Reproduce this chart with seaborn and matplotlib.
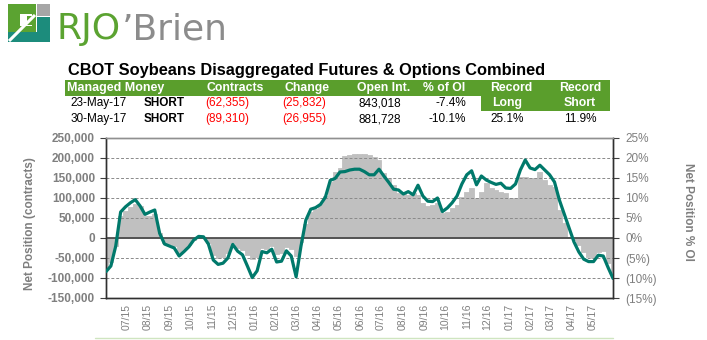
import numpy as np
import pandas as pd
import matplotlib
matplotlib.use("Agg")
import matplotlib.pyplot as plt
import matplotlib.dates as mdates
from matplotlib.patches import Rectangle, Polygon
from matplotlib.ticker import FuncFormatter, FixedLocator
import seaborn as sns

# ---------------- data ----------------
report_start = "2015-06-02"
n_reports = 105

net_contracts = [
    -72000, -60000, -20000, 55000, 68000, 78000, 85000, 80000, 55000, 55000,
    60000, 12000, -12000, -16000, -20000, -35000, -27000, -18000, -4000, 3000,
    2000, -12000, -42000, -50000, -48000, -38000, -12000, -25000, -30000, -42000,
    -52000, -48000, -24000, -27000, -20000, -40000, -38000, -22000, -28000, -45000,
    -10000, 35000, 65000, 72000, 85000, 105000, 140000, 165000, 175000, 205000,
    207000, 211000, 211000, 211000, 207000, 203000, 195000, 162000, 149000, 132000,
    112000, 116000, 107000, 112000, 107000, 87000, 80000, 82000, 88000, 62000,
    66000, 74000, 82000, 103000, 116000, 124000, 99000, 116000, 137000, 124000,
    120000, 116000, 113000, 99000, 99000, 153000, 153000, 149000, 149000, 166000,
    145000, 132000, 128000, 70000, 37000, 3000, -5000, -17000, -34000, -47000,
    -51000, -34000, -32000, -62355, -89310,
]

net_pct_oi = [
    -8.4, -7.0, -2.0, 6.5, 7.8, 8.8, 9.6, 8.0, 5.9, 6.5,
    7.0, 1.2, -1.5, -2.0, -2.5, -4.5, -3.4, -2.2, -0.5, 0.4,
    0.3, -1.5, -5.5, -6.6, -6.3, -5.0, -1.6, -3.3, -4.2, -7.0,
    -9.9, -8.2, -3.4, -3.7, -2.8, -6.0, -5.8, -3.2, -4.5, -9.7,
    -2.0, 4.5, 7.2, 7.6, 8.4, 10.2, 14.4, 14.9, 16.5, 16.6,
    17.0, 17.2, 17.2, 16.6, 15.8, 15.8, 17.2, 15.5, 13.9, 12.2,
    12.0, 11.0, 11.6, 10.8, 13.2, 10.5, 9.2, 9.1, 10.0, 6.6,
    7.5, 8.8, 10.5, 13.5, 15.8, 16.8, 13.3, 15.5, 14.5, 13.9,
    13.4, 13.7, 12.5, 12.4, 13.5, 17.0, 19.5, 17.5, 17.1, 18.2,
    17.0, 15.8, 14.0, 9.5, 6.0, 2.5, -1.0, -3.5, -5.3, -5.9,
    -5.9, -4.3, -4.5, -7.4, -10.1,
]

title_text = "CBOT Soybeans Disaggregated Futures & Options Combined"
header_labels = ["Managed Money", "Contracts", "Change", "Open Int.", "% of OI", "Record", "Record"]
record_sub = ["Long", "Short"]
row_dates = ["23-May-17", "30-May-17"]
row_side = ["SHORT", "SHORT"]
row_contracts = ["(62,355)", "(89,310)"]
row_change = ["(25,832)", "(26,955)"]
row_oi = ["843,018", "881,728"]
row_pct = ["-7.4%", "-10.1%"]
record_vals = ["25.1%", "11.9%"]

left_ticks = [-150000, -100000, -50000, 0, 50000, 100000, 150000, 200000, 250000]
right_ticks = [-15, -10, -5, 0, 5, 10, 15, 20, 25]
left_label = "Net Position (contracts)"
right_label = "Net Position % OI"

# ---------------- style ----------------
sns.set_style("white")
plt.rcParams["font.family"] = ["Liberation Sans", "DejaVu Sans"]

GREEN = "#5A9E2C"
TEAL = "#00796B"
GRAYTXT = "#7F7F7F"
BARGRAY = "#C0C0C0"

W, H = 707, 340
fig = plt.figure(figsize=(W / 100, H / 100), dpi=100)
fig.patch.set_facecolor("white")

dates = pd.date_range(report_start, periods=n_reports, freq="7D")
df = pd.DataFrame({"date": dates, "contracts": net_contracts, "pct": net_pct_oi})

# ---------------- chart ----------------
L, R, T, B = 106, 613, 138, 298
ax = fig.add_axes([L / W, 1 - B / H, (R - L) / W, (B - T) / H])
ax.bar(df["date"], df["contracts"], width=7.0, color=BARGRAY,
       edgecolor=BARGRAY, linewidth=0.6, zorder=1)
ax.set_ylim(-150000, 250000)
ax.yaxis.set_major_locator(FixedLocator(left_ticks))
ax.yaxis.set_major_formatter(FuncFormatter(lambda v, p: f"{v:,.0f}"))
for v in left_ticks:
    if v in (-150000, 250000):
        continue
    if v == 0:
        ax.axhline(0, color="#404040", lw=1.2, zorder=3)
    else:
        ax.axhline(v, color="#8A8A8A", lw=0.7, ls=(0, (3, 2)), zorder=2)

ax2 = ax.twinx()
sns.lineplot(data=df, x="date", y="pct", ax=ax2, color=TEAL, linewidth=2.3, zorder=5)
ax2.set_ylim(-15, 25)
ax2.yaxis.set_major_locator(FixedLocator(right_ticks))
ax2.yaxis.set_major_formatter(
    FuncFormatter(lambda v, p: f"{v:.0f}%" if v >= 0 else f"({-v:.0f}%)"))
ax2.set_xlabel("")
ax2.set_ylabel("")
ax.set_xlabel("")

ax.set_xlim(dates[0], dates[-1])
ax.xaxis.set_major_locator(mdates.MonthLocator(bymonthday=1))
ax.xaxis.set_major_formatter(mdates.DateFormatter("%m/%y"))
for lab in ax.get_xticklabels():
    lab.set_rotation(90)
ax.tick_params(axis="x", length=0, pad=4, labelsize=7.5, labelcolor=GRAYTXT)
ax.tick_params(axis="y", direction="out", length=4, width=0.8, color="#404040",
               pad=4, labelsize=8.5, labelcolor=GRAYTXT, left=True)
for lab in ax.get_yticklabels():
    lab.set_fontweight("bold")
ax2.tick_params(axis="y", direction="out", length=4, width=0.8, color="#404040",
                pad=5, labelsize=8.5, labelcolor=GRAYTXT, right=True)

for a in (ax, ax2):
    for s in a.spines.values():
        s.set_color("#303030")
        s.set_linewidth(1.0)
    a.spines["top"].set_color("#909090")

fig.text(30 / W, 1 - 224 / H, left_label, rotation=90, ha="center", va="center",
         fontsize=8.5, fontweight="bold", color=GRAYTXT)
fig.text(688 / W, 1 - 212 / H, right_label, rotation=270, ha="center", va="center",
         fontsize=8.5, fontweight="bold", color=GRAYTXT)

# ---------------- header / table overlay (pixel coords) ----------------
ov = fig.add_axes([0, 0, 1, 1])
ov.set_xlim(0, W)
ov.set_ylim(H, 0)
ov.axis("off")
ov.patch.set_alpha(0)

# logo
ov.add_patch(Rectangle((8, 4), 28, 28, color="#5BA331", lw=0))
ov.add_patch(Rectangle((20, 14), 12, 12, color="white", lw=0))
ov.add_patch(Rectangle((27, 16), 5, 9, color="#5BA331", lw=0))
ov.add_patch(Rectangle((37, 4), 13, 12, color="#A6A6A6", lw=0))
ov.add_patch(Polygon([(8, 42), (50, 42), (50, 17), (37, 17), (37, 32), (8, 32)],
                     closed=True, color="#1C8C7C", lw=0))
ov.plot([9, 35], [41, 15], color="white", lw=2.2, solid_capstyle="butt")
ov.text(57, 39, "RJO", fontsize=26, color="#5BA331", family="DejaVu Sans",
        ha="left", va="baseline")
ov.text(122, 39, "\u2019Brien", fontsize=26, color="#8C8C8C", family="DejaVu Sans",
        ha="left", va="baseline")

# title
ov.text(68, 70, title_text, fontsize=11.8, fontweight="bold", color="black",
        ha="left", va="center")

# green header bar and record block
ov.add_patch(Rectangle((65, 80), 545, 16, color=GREEN, lw=0))
ov.add_patch(Rectangle((481, 80), 129, 31, color=GREEN, lw=0))

hx = [67, 235, 307, 384, 444, 511, 580]
hy = 88
for i, (x, t) in enumerate(zip(hx, header_labels)):
    ov.text(x, hy, t, fontsize=9 if i == 0 else 8.8, fontweight="bold", color="white",
            ha="left" if i == 0 else "center", va="center")
ov.text(507, 103, record_sub[0], fontsize=8.8, fontweight="bold", color="white",
        ha="center", va="center")
ov.text(580, 103, record_sub[1], fontsize=8.8, fontweight="bold", color="white",
        ha="center", va="center")

for r, y in enumerate([103, 119]):
    ov.text(99, y, row_dates[r], fontsize=8.5, ha="center", va="center", color="black")
    ov.text(164, y, row_side[r], fontsize=8.5, fontweight="bold", ha="center",
            va="center", color="black")
    ov.text(227, y, row_contracts[r], fontsize=8.5, ha="center", va="center", color="#FF0000")
    ov.text(304, y, row_change[r], fontsize=8.5, ha="center", va="center", color="#FF0000")
    ov.text(401, y, row_oi[r], fontsize=8.5, ha="right", va="center", color="black")
    ov.text(466, y, row_pct[r], fontsize=8.5, ha="right", va="center", color="black")
ov.text(507, 119, record_vals[0], fontsize=8.5, ha="center", va="center", color="black")
ov.text(580, 119, record_vals[1], fontsize=8.5, ha="center", va="center", color="black")

# faint green rule at bottom
ov.plot([95, 613], [338, 338], color="#CFE5C0", lw=1)

fig.savefig("out.png", dpi=100)
